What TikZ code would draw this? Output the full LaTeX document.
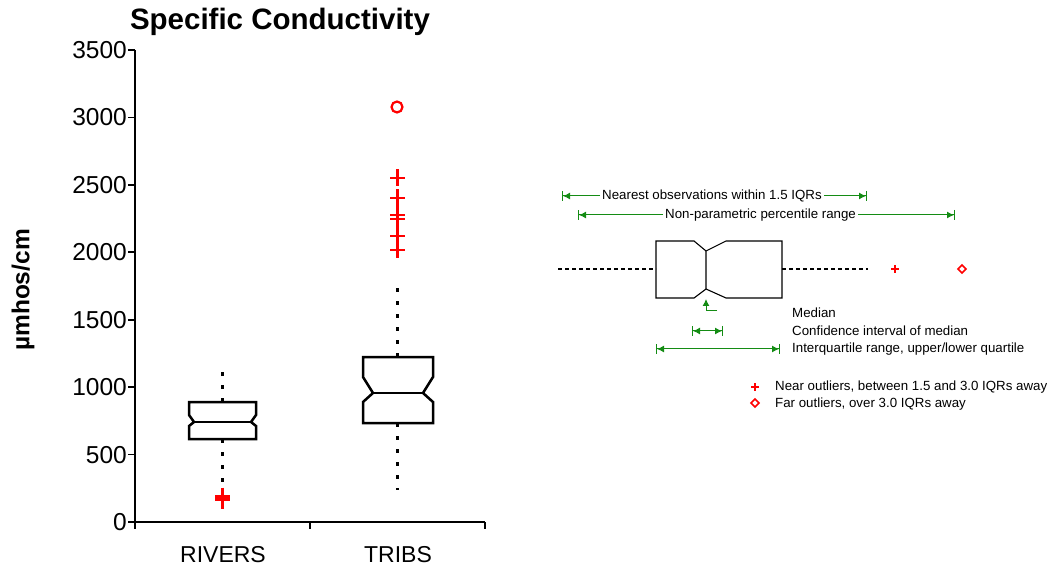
\documentclass[tikz,border=0pt]{standalone}
\usepackage{fontspec}
\setmainfont{Liberation Sans}
\usetikzlibrary{arrows.meta,positioning,calc}
\definecolor{leggreen}{RGB}{20,140,20}

\tikzset{
  axis/.style={line width=1.8pt},
  ticklabel/.style={font=\fontsize{24.5}{28}\selectfont, inner sep=0pt},
  catlabel/.style={font=\fontsize{23}{27}\selectfont, inner sep=0pt},
  notchbox/.style={line width=2.5pt, line join=miter},
  whisk/.style={line width=3pt, dash pattern=on 4pt off 9pt},
  nearpt/.style={red, line width=2.2pt},
  legtext/.style={font=\fontsize{13.3}{15}\selectfont, inner sep=2pt, anchor=west},
  legmark/.style={red, line width=1.5pt},
  legarrow/.style={leggreen, line width=1pt, -{Latex[length=7pt,width=7pt]Bar[width=10pt]}},
  legboth/.style={leggreen, line width=1pt, {Bar[width=10pt]Latex[length=7pt,width=7pt]}-{Latex[length=7pt,width=7pt]Bar[width=10pt]}},
  nearmark/.pic={\draw[nearpt] (-7.5,0) -- (7.5,0) (0,-8.5) -- (0,8.5);}
}

\begin{document}
\begin{tikzpicture}[x=1pt,y=-1pt]
    \useasboundingbox (0,0) rectangle (1047,569);

    % title and axis labels
    \node[font=\fontsize{29.5}{34}\selectfont\bfseries] (title) at (280,22) {Specific Conductivity};
    \node[font=\fontsize{24.5}{28}\selectfont\bfseries, rotate=90] (ylabel) at (23,290) {µmhos/cm};

    % axes
    \draw[axis] (135,50) -- (135,529);
    \draw[axis] (135,522) -- (485,522);
    \foreach \v [count=\i from 0] in {0,500,...,3500} {
        \draw[axis] (128,{522-67.43*\i}) -- (135,{522-67.43*\i});
        \node[ticklabel, anchor=east] at (127,{522-67.43*\i}) {\v};
    }
    \draw[axis] (310,522) -- (310,529);
    \draw[axis] (485,522) -- (485,529);
    \node[catlabel] (rivers) at (223,555) {RIVERS};
    \node[catlabel] (tribs) at (398,555) {TRIBS};

    % RIVERS
    \draw[whisk] (222,402) -- (222,368);
    \draw[whisk] (222,439) -- (222,490);
    \draw[notchbox] (189,402) -- (256,402) -- (256,415) -- (251,422) -- (256,426) -- (256,439)
        -- (189,439) -- (189,426) -- (194,422) -- (189,415) -- cycle;
    \draw[notchbox] (194,422) -- (251,422);
    \foreach \py in {496,498,500}
        \pic at (222.5,\py) {nearmark};

    % TRIBS
    \draw[whisk] (397,357) -- (397,284);
    \draw[whisk] (397,423) -- (397,490);
    \draw[notchbox] (363,357) -- (433,357) -- (433,377) -- (423,393) -- (433,402) -- (433,423)
        -- (363,423) -- (363,402) -- (373,393) -- (363,377) -- cycle;
    \draw[notchbox] (373,393) -- (423,393);
    \foreach \py in {178,198,215,219,236,250}
        \pic at (397.5,\py) {nearmark};
    \draw[red, line width=2.2pt] (397,107) circle[radius=5.5];

    % legend
    \node[legtext] (nearest) at (600,196) {Nearest observations within 1.5 IQRs};
    \coordinate (nearestL) at (562,196);
    \coordinate (nearestR) at (867,196);
    \draw[legarrow] (nearest.west) -- (nearestL);
    \draw[legarrow] (nearest.east) -- (nearestR);

    \node[legtext] (pctl) at (663,215) {Non-parametric percentile range};
    \coordinate (pctlL) at (578,215);
    \coordinate (pctlR) at (955,215);
    \draw[legarrow] (pctl.west) -- (pctlL);
    \draw[legarrow] (pctl.east) -- (pctlR);

    \draw[line width=1.1pt, dash pattern=on 4pt off 3pt] (558,269) -- (656,269) (782,269) -- (868,269);
    \draw[line width=1.1pt] (656,241) -- (694,241) -- (706,251) -- (726,241) -- (782,241) -- (782,298)
        -- (726,298) -- (706,289) -- (694,298) -- (656,298) -- cycle (706,251) -- (706,289);
    \draw[legmark] (891,269) -- (899,269) (895,265) -- (895,273);
    \draw[legmark] (962,265) -- (966,269) -- (962,273) -- (958,269) -- cycle;

    \node[legtext] (median) at (790,313) {Median};
    \node[legtext] (ci) at (790,331) {Confidence interval of median};
    \node[legtext] (iqr) at (790,349) {Interquartile range, upper/lower quartile};
    \coordinate (medTip) at (706,299);
    \coordinate (medFoot) at (717,311);
    \draw[leggreen, line width=1pt, -{Latex[length=7pt,width=7pt]}] (medFoot) -- (706,311) -- (medTip);
    \coordinate (ciL) at (692,331);
    \coordinate (ciR) at (723,331);
    \draw[legboth] (ciL) -- (ciR);
    \coordinate (iqrL) at (656,349);
    \coordinate (iqrR) at (780,349);
    \draw[legboth] (iqrL) -- (iqrR);

    \draw[legmark] (751,387) -- (759,387) (755,383) -- (755,391);
    \node[legtext] (nearout) at (773,387) {Near outliers, between 1.5 and 3.0 IQRs away};
    \draw[legmark] (755,399) -- (759,403) -- (755,407) -- (751,403) -- cycle;
    \node[legtext] (farout) at (773,404) {Far outliers, over 3.0 IQRs away};
\end{tikzpicture}
\end{document}
